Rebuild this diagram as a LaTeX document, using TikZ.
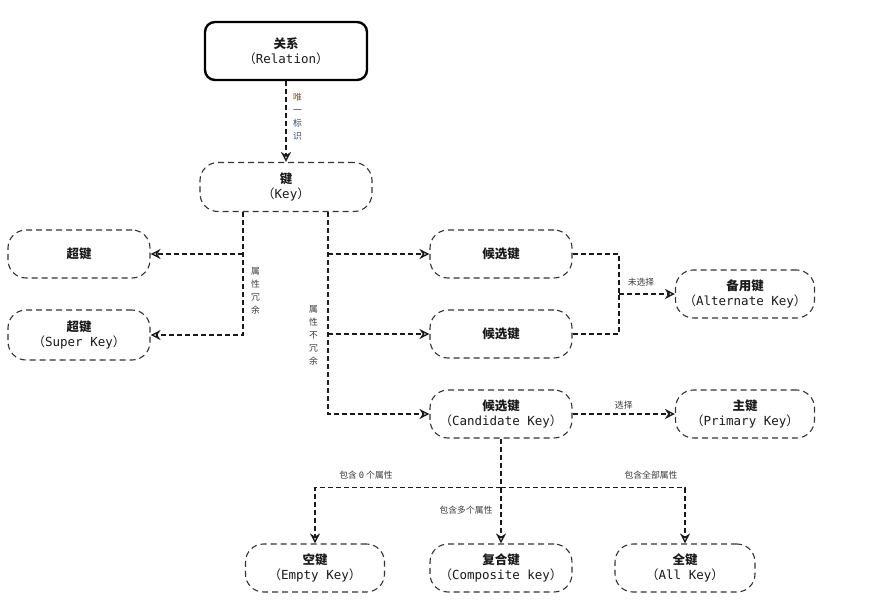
\documentclass[tikz,border=0pt]{standalone}
\usepackage{fontspec}
\usetikzlibrary{arrows.meta,calc}
\newfontfamily\cjk{Noto Sans CJK SC}
\newfontfamily\monof{DejaVu Sans Mono}
\definecolor{ink}{HTML}{1A1A1A}
\definecolor{boxline}{HTML}{333333}
\definecolor{lab}{HTML}{3A3A3A}
\definecolor{labbrown}{HTML}{7A5230}
\definecolor{labblue}{HTML}{2E4A7A}
\newcommand{\en}[1]{{\cjk （}{\monof #1}{\cjk ）}}
\newcommand{\zh}[1]{{\cjk\bfseries #1}}
\begin{document}
\begin{tikzpicture}[x=1pt,y=-1pt,
  keybox/.style={draw=boxline, line width=1.1pt, dash pattern=on 6pt off 4pt,
     rounded corners=18pt, align=center, font=\fontsize{12.5}{15.5}\selectfont,
     inner sep=2pt, text=ink},
  relbox/.style={draw=black, line width=2.4pt, rounded corners=10pt,
     align=center, font=\fontsize{12.5}{15.5}\selectfont, text=ink},
  conn/.style={draw=ink, line width=1.6pt, dash pattern=on 5pt off 3pt},
  arr/.style={conn, -{Stealth[open,length=10pt,width=10pt,line width=1.4pt]}},
  lbl/.style={font=\cjk\fontsize{8.8}{13}\selectfont, text=lab, inner sep=1pt, align=center}
]
\useasboundingbox (0,0) rectangle (892,615);
\fill[white] (0,0) rectangle (892,615);

% nodes
\node[relbox, minimum width=162pt, minimum height=58pt] (rel) at (286,51) {\zh{关系}\\\en{Relation}};
\node[keybox, minimum width=172pt, minimum height=49pt] (key) at (286,187) {\zh{键}\\\en{Key}};
\node[keybox, minimum width=142pt, minimum height=48pt] (sk1) at (79,254) {\zh{超键}};
\node[keybox, minimum width=142pt, minimum height=50pt] (sk2) at (79,335) {\zh{超键}\\\en{Super Key}};
\node[keybox, minimum width=142pt, minimum height=48pt] (ck1) at (501,254) {\zh{候选键}};
\node[keybox, minimum width=142pt, minimum height=48pt] (ck2) at (501,334) {\zh{候选键}};
\node[keybox, minimum width=142pt, minimum height=48pt] (ck) at (501,414) {\zh{候选键}\\\en{Candidate Key}};
\node[keybox, minimum width=139pt, minimum height=48pt] (ak) at (745,294) {\zh{备用键}\\\en{Alternate Key}};
\node[keybox, minimum width=139pt, minimum height=48pt] (pk) at (745,414) {\zh{主键}\\\en{Primary Key}};
\node[keybox, minimum width=139pt, minimum height=48pt] (ek) at (315,568) {\zh{空键}\\\en{Empty Key}};
\node[keybox, minimum width=142pt, minimum height=48pt] (cok) at (501,568) {\zh{复合键}\\\en{Composite key}};
\node[keybox, minimum width=140pt, minimum height=48pt] (allk) at (685,568) {\zh{全键}\\\en{All Key}};

% relation -> key
\draw[arr] (rel.south) -- (key.north);
\node[lbl, anchor=north west] (l1) at (292,92) {\textcolor{labbrown}{唯}\\一\\\textcolor{labblue}{标}\\\textcolor{labblue}{识}};

% key -> super keys
\coordinate (kL) at ([xshift=-43pt]key.south);
\draw[arr] (kL) |- (sk2.east);
\draw[arr] (kL |- sk1.east) -- (sk1.east);
\node[lbl, anchor=north west] (l2) at (250,266) {属\\性\\冗\\余};

% key -> candidate keys
\coordinate (kR) at ([xshift=42pt]key.south);
\draw[arr] (kR) |- (ck.west);
\draw[arr] (kR |- ck1.west) -- (ck1.west);
\draw[arr] (kR |- ck2.west) -- (ck2.west);
\node[lbl, anchor=north west] (l3) at (308,304) {属\\性\\不\\冗\\余};

% candidate -> alternate
\coordinate (m) at (619,294);
\draw[conn] (ck1.east) -| (m);
\draw[conn] (ck2.east) -| (m);
\draw[arr] (m) -- (ak.west);
\node[lbl] (l4) at (641,282) {未选择};

% candidate -> primary
\draw[arr] (ck.east) -- node[lbl, above=3pt] (l5) {选择} (pk.west);

% candidate -> empty/composite/all
\coordinate (b) at ($(ck.south)+(0,49)$);
\draw[conn] (ck.south) -- (b);
\draw[arr] (b) -| (ek.north);
\draw[arr] (b) -| (allk.north);
\draw[arr] (b) -- (cok.north);
\node[lbl] (l6) at (366,475) {包含 {\monof 0} 个属性};
\node[lbl] (l7) at (466,510) {包含多个属性};
\node[lbl] (l8) at (651,475) {包含全部属性};
\end{tikzpicture}
\end{document}
